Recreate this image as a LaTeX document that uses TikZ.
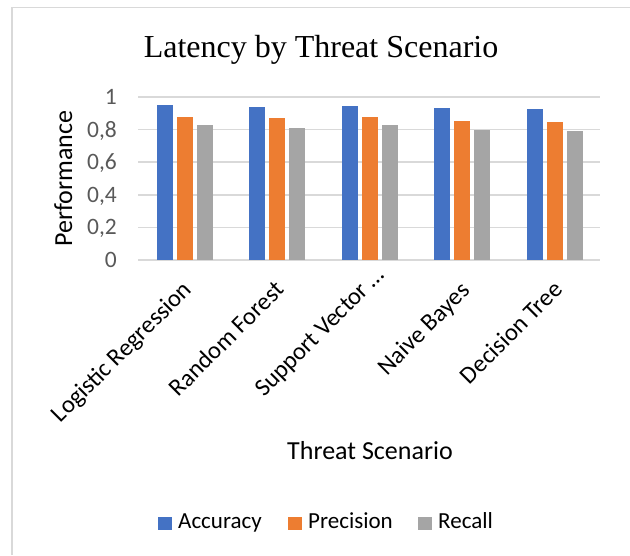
\documentclass[tikz,border=0pt]{standalone}
\usepackage{fontspec}
\setmainfont{Carlito}
\newfontfamily\titlefont{Liberation Serif}
\definecolor{accblue}{HTML}{4472C4}
\definecolor{preorange}{HTML}{ED7D31}
\definecolor{recgray}{HTML}{A5A5A5}
\definecolor{gridgray}{HTML}{D9D9D9}
\definecolor{ticktext}{HTML}{595959}
\tikzset{
    ticklabel/.style={anchor=base east, inner sep=0, text=ticktext,
        font=\fontsize{23.5}{23.5}\selectfont},
    catlabel/.style={anchor=base east, inner sep=0, rotate=45,
        font=\fontsize{24.5}{24.5}\selectfont},
    axtitle/.style={anchor=base, inner sep=0,
        font=\fontsize{26}{26}\selectfont},
    legkey/.style={anchor=west, inner sep=0, minimum width=14pt,
        minimum height=13pt},
    legtext/.style={anchor=base west, inner sep=0,
        font=\fontsize{23}{23}\selectfont},
}

\begin{document}
\begin{tikzpicture}[x=1pt, y=-1pt]
    \useasboundingbox (0,0) rectangle (630,555);
    \draw[gridgray, line width=1.5pt] (12,555) |- (630,7.5);
    \path (321,57) node[anchor=base, inner sep=0,
        font=\titlefont\fontsize{32}{32}\selectfont](title){Latency by Threat Scenario};
    \foreach \v/\lab [count=\i from 0] in {0/0, 0.2/{0,2}, 0.4/{0,4}, 0.6/{0,6}, 0.8/{0,8}, 1/1}{
        \draw[gridgray, line width=1.5pt] (138,{260-163*\v}) -- (600,{260-163*\v});
        \path (117,{267.5-163*\v}) node[ticklabel](ytick\i){\lab};
    }
    \foreach \a/\p/\r [count=\k from 0] in {0.949/0.879/0.828, 0.94/0.871/0.808,
        0.947/0.877/0.826, 0.931/0.853/0.80, 0.926/0.845/0.79}{
        \pgfmathsetmacro\cx{138.7+92.4*(\k+0.5)}
        \fill[accblue] ({\cx-28},260) rectangle ({\cx-12},{260-163*\a});
        \fill[preorange] ({\cx-8},260) rectangle ({\cx+8},{260-163*\p});
        \fill[recgray] ({\cx+12},260) rectangle ({\cx+28},{260-163*\r});
    }
    \foreach \name/\dx/\yy [count=\k from 0] in {Logistic Regression/9/291,
        Random Forest/9/291, Support Vector …/17/276, Naive Bayes/10/292,
        Decision Tree/10/291}{
        \path ({138+92.4*(\k+0.5)+\dx},\yy) node[catlabel](cat\k){\name};
    }
    \path (72,178.5) node[axtitle, rotate=90](ytitle){Performance};
    \path (370,459) node[axtitle](xtitle){Threat Scenario};
    \path (158,523.5) node[legkey, fill=accblue](keyacc){};
    \path (178,528.3) node[legtext](legacc){Accuracy};
    \path (288,523.5) node[legkey, fill=preorange](keypre){};
    \path (308,528.3) node[legtext](legpre){Precision};
    \path (418,523.5) node[legkey, fill=recgray](keyrec){};
    \path (438,528.3) node[legtext](legrec){Recall};
\end{tikzpicture}
\end{document}
